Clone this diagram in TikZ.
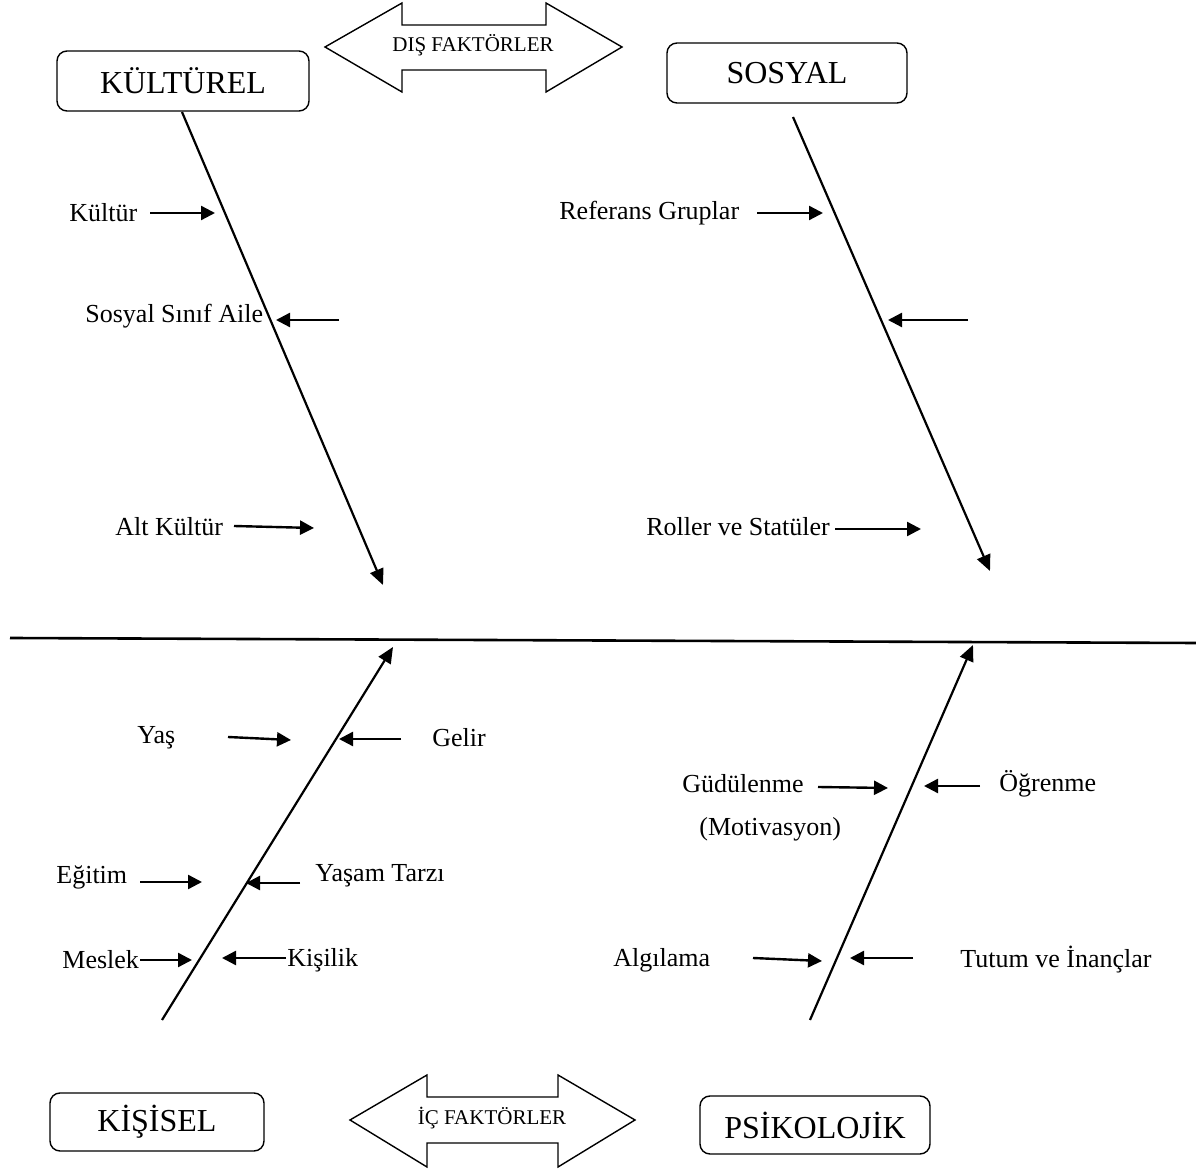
\documentclass[tikz,border=0pt]{standalone}
\usepackage{fontspec}
\setmainfont{Liberation Serif}
\usetikzlibrary{arrows.meta}
\tikzset{
  catbox/.style={draw, rounded corners=5pt, line width=0.7pt, minimum width=#1, inner sep=0pt, font=\fontsize{16}{18}\selectfont},
  lbl/.style={inner sep=0pt, anchor=west, font=\fontsize{13}{15}\selectfont},
  bone/.style={line width=1.1pt, -{Triangle[length=8pt,width=7pt]}},
  rib/.style={line width=1.2pt, -{Triangle[length=7pt,width=7pt]}},
  spine/.style={line width=1.3pt},
  dbl/.style={draw, line width=0.7pt, fill=white},
  dbltxt/.style={inner sep=0pt, font=\fontsize{10.5}{12}\selectfont}
}
\begin{document}
\begin{tikzpicture}[x=0.5pt, y=-0.5pt]
\useasboundingbox (0,0) rectangle (1196,1170);

% category boxes
\node[catbox=126pt, minimum height=30pt] (kult) at (183,81) {KÜLTÜREL};
\node[catbox=120pt, minimum height=30pt] (sos) at (787,73) {SOSYAL};
\node[catbox=107pt, minimum height=29pt] (kis) at (157,1122) {KİŞİSEL};
\node[catbox=115pt, minimum height=29pt] (psi) at (815,1125) {PSİKOLOJİK};

% double arrows
\draw[dbl] (325,47) -- (402,3) -- (402,25) -- (546,25) -- (546,3) -- (622,47) -- (546,92) -- (546,70) -- (402,70) -- (402,92) -- cycle;
\node[dbltxt] (dis) at (473,45) {DIŞ FAKTÖRLER};
\draw[dbl] (350,1120) -- (427,1075) -- (427,1097) -- (558,1097) -- (558,1075) -- (635,1120) -- (558,1167) -- (558,1143) -- (427,1143) -- (427,1167) -- cycle;
\node[dbltxt] (ic) at (492,1118) {İÇ FAKTÖRLER};

% spine
\coordinate (spL) at (10,638);
\coordinate (spR) at (1196,643);
\draw[spine] (spL) -- (spR);

% main bones
\coordinate (b1s) at (182,112); \coordinate (b1e) at (383,585);
\coordinate (b2s) at (793,117); \coordinate (b2e) at (990,571);
\coordinate (b3s) at (162,1020); \coordinate (b3e) at (393,647);
\coordinate (b4s) at (810,1020); \coordinate (b4e) at (973,645);
\draw[bone] (b1s) -- (b1e);
\draw[bone] (b2s) -- (b2e);
\draw[bone] (b3s) -- (b3e);
\draw[bone] (b4s) -- (b4e);

% labels
\node[lbl] (l1) at (69,213) {Kültür};
\node[lbl] (l2) at (85,316) {Sosyal Sınıf Aile};
\node[lbl] (l3) at (115,527) {Alt Kültür};
\node[lbl] (l4) at (559,213) {Referans Gruplar};
\node[lbl] (l5) at (646,527) {Roller ve Statüler};
\node[lbl] (l6) at (137,738) {Yaş};
\node[lbl] (l7) at (432,738) {Gelir};
\node[lbl] (l8) at (56,877) {Eğitim};
\node[lbl] (l9) at (315,876) {Yaşam Tarzı};
\node[lbl] (l10) at (62,960) {Meslek};
\node[lbl] (l11) at (287,960) {Kişilik};
\node[lbl] (l12) at (682,784) {Güdülenme};
\node[lbl] (l12b) at (699,829) {(Motivasyon)};
\node[lbl] (l13) at (999,784) {Öğrenme};
\node[lbl] (l14) at (613,960) {Algılama};
\node[lbl] (l15) at (960,960) {Tutum ve İnançlar};

% rib arrows
\coordinate (r1a) at (150,213); \coordinate (r1b) at (215,213);
\coordinate (r2a) at (339,320); \coordinate (r2b) at (276,320);
\coordinate (r3a) at (234,526); \coordinate (r3b) at (314,528);
\coordinate (r4a) at (757,213); \coordinate (r4b) at (823,213);
\coordinate (r5a) at (968,320); \coordinate (r5b) at (888,320);
\coordinate (r6a) at (835,529); \coordinate (r6b) at (921,529);
\coordinate (r7a) at (228,737); \coordinate (r7b) at (291,740);
\coordinate (r8a) at (401,739); \coordinate (r8b) at (339,739);
\coordinate (r9a) at (140,882); \coordinate (r9b) at (202,882);
\coordinate (r10a) at (300,883); \coordinate (r10b) at (246,883);
\coordinate (r11a) at (140,960); \coordinate (r11b) at (192,960);
\coordinate (r12a) at (286,958); \coordinate (r12b) at (222,958);
\coordinate (r13a) at (818,787); \coordinate (r13b) at (888,788);
\coordinate (r14a) at (980,786); \coordinate (r14b) at (924,786);
\coordinate (r15a) at (753,958); \coordinate (r15b) at (822,961);
\coordinate (r16a) at (913,958); \coordinate (r16b) at (850,958);
\foreach \a in {1,...,16} {\draw[rib] (r\a a) -- (r\a b);}
\end{tikzpicture}
\end{document}
